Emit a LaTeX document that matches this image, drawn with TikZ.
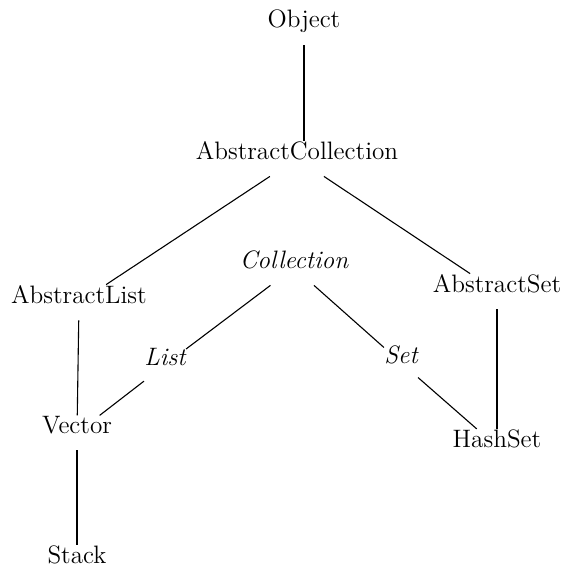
\documentclass[tikz,border=0pt]{standalone}
\usepackage{tikz}

\tikzset{
    cls/.style={inner sep=0pt, anchor=base, text depth=8.5pt, font=\fontsize{12.6}{15}\selectfont},
    iface/.style={cls, font=\fontsize{12.6}{15}\selectfont\itshape},
    edge/.style={line width=0.55pt}
}

\begin{document}
\begin{tikzpicture}[x=0.5pt, y=-0.5pt]
        \useasboundingbox (0,0) rectangle (564,567);

        % Root
        \node[cls] (object) at (304,28) {Object};
        \node[cls] (abscoll) at (297,159) {AbstractCollection};
        \draw[edge] (object.south) -- (object.south |- abscoll.north);

        % Interfaces
        \node[iface] (coll) at (294,268) {Collection};
        \node[iface] (list) at (165,365) {List};
        \node[iface] (set) at (401,363) {Set};

        % Abstract classes
        \node[cls] (abslist) at (79,303) {AbstractList};
        \node[cls] (absset) at (497,292) {AbstractSet};
        \draw[edge] (abscoll) -- (abslist);
        \draw[edge] (abscoll) -- (absset);

        % Concrete classes
        \node[cls] (vector) at (77,433) {Vector};
        \node[cls] (hashset) at (497,447) {HashSet};
        \node[cls] (stack) at (77,563) {Stack};
        \draw[edge] (abslist) -- (vector);
        \draw[edge] (absset) -- (hashset);
        \draw[edge] (vector) -- (stack);

        % Implements
        \draw[edge] (coll) -- (list);
        \draw[edge] (coll) -- (set);
        \draw[edge] (list) -- (vector);
        \draw[edge] (set) -- (hashset);
    \end{tikzpicture}
\end{document}
